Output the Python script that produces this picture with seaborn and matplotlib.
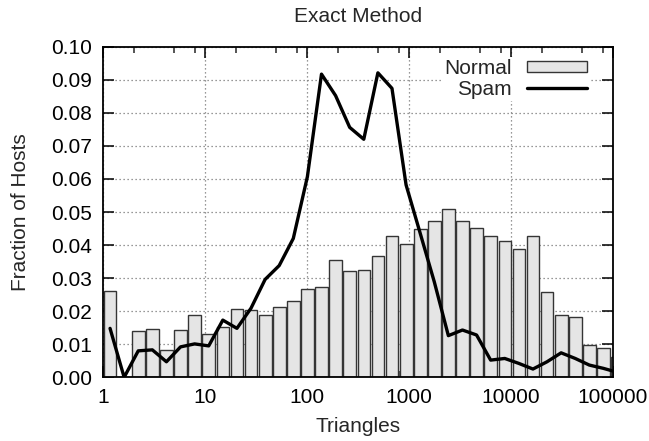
import numpy as np
import pandas as pd
import matplotlib
matplotlib.use("Agg")
import matplotlib.pyplot as plt
from matplotlib.ticker import FixedLocator, LogLocator, NullFormatter, FormatStrFormatter
from matplotlib.patches import Patch
from matplotlib.lines import Line2D
import seaborn as sns

# ---------------- data ----------------
title = "Exact Method"
x_label = "Triangles"
y_label = "Fraction of Hosts"
series_names = ["Normal", "Spam"]

bin_log_width = 0.1382          # width of one histogram bin, in log10 units
normal = [0.0262, 0.0, 0.0141, 0.0145, 0.0082, 0.0142, 0.0188, 0.0132, 0.0152, 0.0207,
          0.0204, 0.0188, 0.0213, 0.0231, 0.0266, 0.0272, 0.0355, 0.0322, 0.0324, 0.0368,
          0.0428, 0.0404, 0.0448, 0.0474, 0.0510, 0.0472, 0.0452, 0.0426, 0.0411, 0.0388,
          0.0428, 0.0258, 0.0189, 0.0181, 0.0098, 0.0088, 0.0062]
spam = [0.0148, 0.0, 0.0080, 0.0083, 0.0047, 0.0092, 0.0101, 0.0095, 0.0173, 0.0148,
        0.0209, 0.0296, 0.0338, 0.0420, 0.0607, 0.0917, 0.0852, 0.0756, 0.0720, 0.0921,
        0.0874, 0.0582, 0.0436, 0.0289, 0.0126, 0.0143, 0.0128, 0.0052, 0.0057, 0.0042,
        0.0025, 0.0047, 0.0074, 0.0057, 0.0037, 0.0027, 0.0015]
x_ticks = [1, 10, 100, 1000, 10000, 100000]
x_tick_labels = ["1", "10", "100", "1000", "10000", "100000"]
y_ticks = [0.00, 0.01, 0.02, 0.03, 0.04, 0.05, 0.06, 0.07, 0.08, 0.09, 0.10]

n_bins = len(normal)
bin_centers = 10 ** ((np.arange(n_bins) + 0.5) * bin_log_width)
df = pd.DataFrame({"triangles": bin_centers, "normal": normal, "spam": spam})

# ---------------- style ----------------
sns.set_style("ticks")
plt.rcParams["font.family"] = ["Liberation Sans", "DejaVu Sans"]
FS = 15
bar_fill = "#e5e5e5"
bar_edge = "#353535"

fig = plt.figure(figsize=(6.49, 4.41), dpi=100)
ax = fig.add_axes([103 / 649, 1 - 377.3 / 441, 510 / 649, 330.6 / 441])

sns.histplot(data=df, x="triangles", weights="normal", log_scale=True,
             binwidth=bin_log_width, binrange=(0, n_bins * bin_log_width),
             shrink=0.9, stat="count", element="bars", fill=True,
             color=bar_fill, alpha=1.0, edgecolor=bar_edge, linewidth=1.0,
             ax=ax, zorder=2)
sns.lineplot(data=df, x="triangles", y="spam", color="black", linewidth=2.4,
             ax=ax, zorder=3, sort=True)

ax.set_xscale("log")
ax.set_xlim(1, 100000)
ax.set_ylim(0, 0.10)

ax.xaxis.set_major_locator(FixedLocator(x_ticks))
ax.set_xticklabels(x_tick_labels)
ax.xaxis.set_minor_locator(LogLocator(base=10, subs=[2, 5, 8]))
ax.xaxis.set_minor_formatter(NullFormatter())
ax.yaxis.set_major_locator(FixedLocator(y_ticks))
ax.yaxis.set_major_formatter(FormatStrFormatter("%.2f"))

ax.tick_params(axis="both", which="major", direction="in", length=8, width=1.1,
               top=True, right=True, labelsize=FS, colors="black")
ax.tick_params(axis="x", which="minor", direction="in", length=4, width=1.1,
               top=True, bottom=True)
ax.tick_params(axis="y", which="major", pad=8)
ax.tick_params(axis="x", which="major", pad=8)

for s in ax.spines.values():
    s.set_visible(True)
    s.set_linewidth(1.3)
    s.set_color("black")

ax.grid(True, which="major", axis="both", color="#777777", linestyle=(0, (1, 2.2)),
        linewidth=0.9, zorder=0)
ax.set_axisbelow(True)

ax.set_xlabel(x_label, fontsize=FS, labelpad=7)
ax.set_ylabel(y_label, fontsize=FS, labelpad=15)
ax.set_title(title, fontsize=FS, pad=18)

handles = [Patch(facecolor=bar_fill, edgecolor=bar_edge, linewidth=1.0),
           Line2D([0], [0], color="black", linewidth=2.4)]
leg = ax.legend(handles, series_names, loc="upper right",
                bbox_to_anchor=((589 - 103) / 510, 1 - (57 - 46.7) / 330.6),
                borderaxespad=0,
                markerfirst=False, fontsize=FS, frameon=True, fancybox=False,
                facecolor="white", edgecolor="none", framealpha=1.0,
                handlelength=2.9, handleheight=0.48, handletextpad=0.72,
                labelspacing=0.08, borderpad=0.1)
leg.set_zorder(5)

fig.savefig("out.png", dpi=100)
